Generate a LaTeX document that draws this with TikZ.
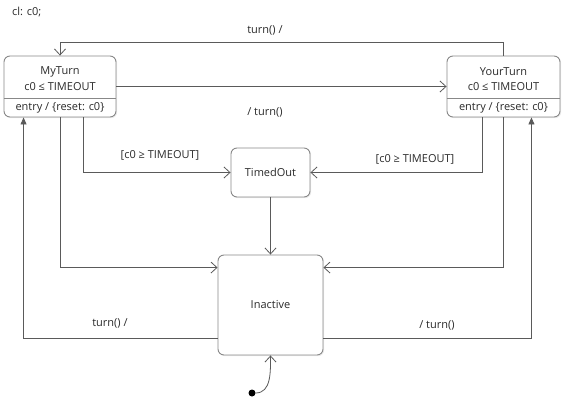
\documentclass[tikz,border=0pt]{standalone}
\usepackage{fontspec}
\setmainfont{Open Sans}
\usetikzlibrary{arrows.meta,shadows}

\definecolor{wire}{HTML}{5A5A5A}
\definecolor{rim}{HTML}{888888}
\definecolor{ink}{HTML}{2A2A2A}

\begin{document}
\begin{tikzpicture}[x=1pt,y=-1pt,font=\fontsize{11}{13}\selectfont,text=ink,
                    state/.style={draw=rim,fill=white,line width=0.9pt,rounded corners=6pt,
                                  drop shadow={opacity=0.15,shadow xshift=1.2pt,shadow yshift=-1.2pt}},
                    wire/.style={draw=wire,line width=0.8pt,-{Straight Barb[length=6pt,width=11pt]}},
                    back/.style={draw=wire,line width=0.8pt,-{Triangle[length=7pt,width=6pt]}},
                    lbl/.style={inner sep=1pt}]
    \useasboundingbox (0,0) rectangle (563,404);
    \node (decl) at (11,12) [anchor=west,lbl] {cl: c0;};
    % states
    \node (myturn) at (60,86.5) [state,minimum width=112pt,minimum height=61pt] {};
    \node (yourturn) at (503.5,86.5) [state,minimum width=113pt,minimum height=61pt] {};
    \node (timedout) at (270.5,172.5) [state,minimum width=79pt,minimum height=49pt] {TimedOut};
    \node (inactive) at (270.5,305) [state,minimum width=105pt,minimum height=100pt] {Inactive};
    \draw [rim,line width=0.9pt] (myturn.west |- 0,98) -- (myturn.east |- 0,98);
    \draw [rim,line width=0.9pt] (yourturn.west |- 0,98) -- (yourturn.east |- 0,98);
    \node (myname) at (60,72) [lbl] {MyTurn};
    \node (myinv) at (60,87) [lbl] {c0 ≤ TIMEOUT};
    \node (myentry) at (60,108) [lbl] {entry / \{reset: c0\}};
    \node (yourname) at (503.5,72) [lbl] {YourTurn};
    \node (yourinv) at (503.5,87) [lbl] {c0 ≤ TIMEOUT};
    \node (yourentry) at (503.5,108) [lbl] {entry / \{reset: c0\}};
    \node (init) at (252,393) [circle,fill=black,inner sep=0pt,minimum size=7pt] {};
    \coordinate (inl) at ([yshift=-13pt]inactive.north west);
    \coordinate (inr) at ([yshift=-13pt]inactive.north east);
    \coordinate (outl) at ([yshift=17pt]inactive.south west);
    \coordinate (outr) at ([yshift=17pt]inactive.south east);
    % transitions
    \draw [wire] (yourturn.north) -- ++(0,-13) -| (myturn.north);
    \draw [wire] (myturn.east) -- (yourturn.west);
    \draw [wire] ([xshift=23pt]myturn.south) |- (timedout.west);
    \draw [wire] (myturn.south) |- (inl);
    \draw [wire] ([xshift=-21pt]yourturn.south) |- (timedout.east);
    \draw [wire] (yourturn.south) |- (inr);
    \draw [wire] (timedout.south) -- (inactive.north);
    \draw [back] (outl) -| ([xshift=20pt]myturn.south west);
    \draw [back] (outr) -| ([xshift=-29pt]yourturn.south east);
    \draw [wire] (init) to [out=0,in=-90] (inactive.south);
    % labels
    \node (lbltop) at (265,30) [lbl] {turn() /};
    \node (lblmid) at (265,112) [lbl] {/ turn()};
    \node (lblgl) at (160,155) [lbl] {[c0 ≥ TIMEOUT]};
    \node (lblgr) at (415,159) [lbl] {[c0 ≥ TIMEOUT]};
    \node (lblbl) at (110,323) [lbl] {turn() /};
    \node (lblbr) at (437,325) [lbl] {/ turn()};
\end{tikzpicture}
\end{document}
